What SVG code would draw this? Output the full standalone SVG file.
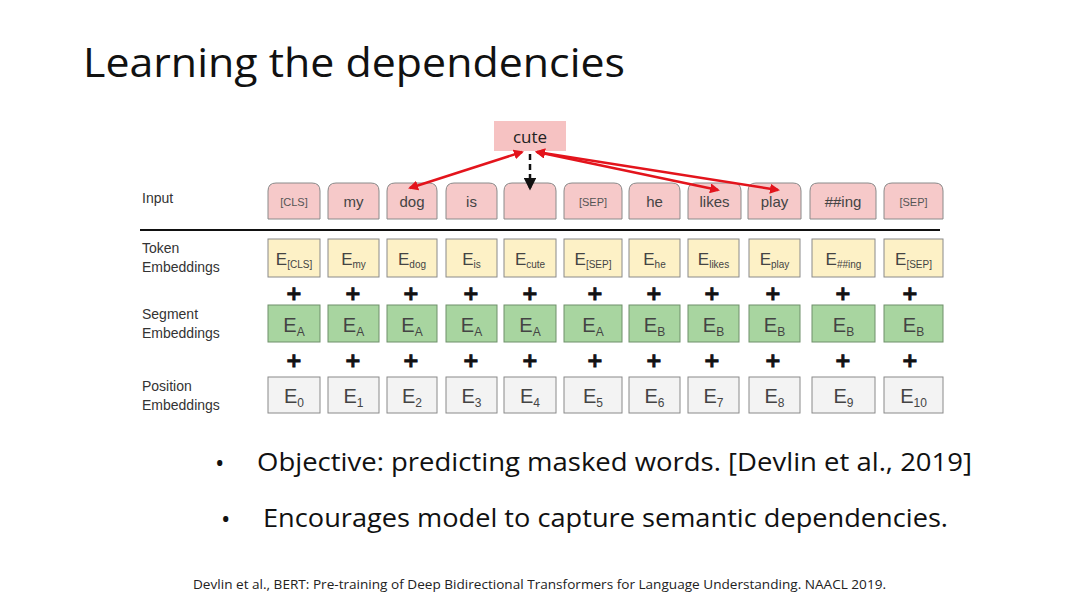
<svg xmlns="http://www.w3.org/2000/svg" width="1080" height="608" viewBox="0 0 1080 608">
<defs>
<style>
.lbl{font-family:"Liberation Sans",Arial,sans-serif;font-size:14px;fill:#333}
.in{fill:#f6c9c9;stroke:#8a8a8a;stroke-width:1}
.tok{fill:#fdf1c6;stroke:#8a8a8a;stroke-width:1}
.seg{fill:#a8d5a0;stroke:#6f8f6a;stroke-width:1}
.pos{fill:#f3f3f3;stroke:#8a8a8a;stroke-width:1}
.it{font-family:"Liberation Sans",Arial,sans-serif;font-size:15px;fill:#444;text-anchor:middle}
.its{font-family:"Liberation Sans",Arial,sans-serif;font-size:11px;fill:#555;text-anchor:middle}
.E{font-family:"Liberation Sans",Arial,sans-serif;font-size:17px;fill:#444;text-anchor:middle}
.E2{font-family:"Liberation Sans",Arial,sans-serif;font-size:20px;fill:#444;text-anchor:middle}
.sub{font-size:10px}
.sub2{font-size:12px}
.plus{font-family:"DejaVu Sans",sans-serif;font-size:20px;font-weight:bold;fill:#111;text-anchor:middle;stroke:#111;stroke-width:0.8}
.red{stroke:#e3141c;stroke-width:2.5;fill:none;marker-start:url(#rh);marker-end:url(#rh)}
.bul{font-family:"Open Sans","Liberation Sans",sans-serif;font-size:25px;fill:#111}
</style>
<marker id="rh" viewBox="0 0 10 10" refX="8" refY="5" markerWidth="4" markerHeight="4" orient="auto-start-reverse" markerUnits="strokeWidth"><path d="M0,0 L10,5 L0,10 z" fill="#e3141c"/></marker>
<marker id="bh" viewBox="0 0 10 10" refX="8" refY="5" markerWidth="5" markerHeight="5" orient="auto" markerUnits="strokeWidth"><path d="M0,0 L10,5 L0,10 z" fill="#111"/></marker>
</defs>
<rect width="1080" height="608" fill="#fff"/>
<text x="83" y="77" font-family="Open Sans,Liberation Sans,sans-serif" font-size="41" fill="#111" textLength="542" lengthAdjust="spacingAndGlyphs">Learning the dependencies</text>

<g id="row-labels">
<text class="lbl" x="142" y="203">Input</text>
<text class="lbl" x="142" y="253">Token</text>
<text class="lbl" x="142" y="272">Embeddings</text>
<text class="lbl" x="142" y="319">Segment</text>
<text class="lbl" x="142" y="338">Embeddings</text>
<text class="lbl" x="142" y="391">Position</text>
<text class="lbl" x="142" y="410">Embeddings</text>
</g>
<line x1="140" y1="230" x2="940" y2="230" stroke="#111" stroke-width="2"/>

<g id="cute"><rect x="494" y="121" width="72" height="30" fill="#f6c2c2"/><text x="530" y="143" font-family="Open Sans,Liberation Sans,sans-serif" font-size="17" fill="#222" text-anchor="middle">cute</text></g>

<g id="input">
<path class="in" d="M268,219V191Q268,183 276,183H312Q320,183 320,191V219Z"/><text class="its" x="294" y="206">[CLS]</text>
<path class="in" d="M328,219V191Q328,183 336,183H371Q379,183 379,191V219Z"/><text class="it" x="353.5" y="207">my</text>
<path class="in" d="M387,219V191Q387,183 395,183H429Q437,183 437,191V219Z"/><text class="it" x="412" y="207">dog</text>
<path class="in" d="M446,219V191Q446,183 454,183H489Q497,183 497,191V219Z"/><text class="it" x="471.5" y="207">is</text>
<path class="in" d="M504,219V191Q504,183 512,183H548Q556,183 556,191V219Z"/>
<path class="in" d="M564,219V191Q564,183 572,183H614Q622,183 622,191V219Z"/><text class="its" x="593" y="206">[SEP]</text>
<path class="in" d="M629,219V191Q629,183 637,183H672Q680,183 680,191V219Z"/><text class="it" x="654.5" y="207">he</text>
<path class="in" d="M688,219V191Q688,183 696,183H733Q741,183 741,191V219Z"/><text class="it" x="714.5" y="207">likes</text>
<path class="in" d="M748,219V191Q748,183 756,183H793Q801,183 801,191V219Z"/><text class="it" x="774.5" y="207">play</text>
<path class="in" d="M810,219V191Q810,183 818,183H868Q876,183 876,191V219Z"/><text class="it" x="843" y="207">##ing</text>
<path class="in" d="M884,219V191Q884,183 892,183H935Q943,183 943,191V219Z"/><text class="its" x="913.5" y="206">[SEP]</text>
</g>

<g id="connectors">
<line class="red" x1="522" y1="152" x2="410" y2="188"/>
<line class="red" x1="537" y1="152" x2="718" y2="190"/>
<line class="red" x1="537" y1="152" x2="778" y2="190"/>
<line x1="530" y1="154" x2="530" y2="188" stroke="#111" stroke-width="2.5" stroke-dasharray="6,4" marker-end="url(#bh)"/>
</g>

<g id="token">
<rect class="tok" x="268" y="239" width="52" height="38"/><text class="E" x="294" y="265">E<tspan class="sub" dy="3">[CLS]</tspan></text>
<rect class="tok" x="328" y="239" width="51" height="38"/><text class="E" x="353.5" y="265">E<tspan class="sub" dy="3">my</tspan></text>
<rect class="tok" x="387" y="239" width="50" height="38"/><text class="E" x="412" y="265">E<tspan class="sub" dy="3">dog</tspan></text>
<rect class="tok" x="446" y="239" width="51" height="38"/><text class="E" x="471.5" y="265">E<tspan class="sub" dy="3">is</tspan></text>
<rect class="tok" x="504" y="239" width="52" height="38"/><text class="E" x="530" y="265">E<tspan class="sub" dy="3">cute</tspan></text>
<rect class="tok" x="564" y="239" width="58" height="38"/><text class="E" x="593" y="265">E<tspan class="sub" dy="3">[SEP]</tspan></text>
<rect class="tok" x="629" y="239" width="51" height="38"/><text class="E" x="654.5" y="265">E<tspan class="sub" dy="3">he</tspan></text>
<rect class="tok" x="688" y="239" width="51" height="38"/><text class="E" x="713.5" y="265">E<tspan class="sub" dy="3">likes</tspan></text>
<rect class="tok" x="749" y="239" width="51" height="38"/><text class="E" x="774.5" y="265">E<tspan class="sub" dy="3">play</tspan></text>
<rect class="tok" x="812" y="239" width="63" height="38"/><text class="E" x="843.5" y="265">E<tspan class="sub" dy="3">##ing</tspan></text>
<rect class="tok" x="884" y="239" width="59" height="38"/><text class="E" x="913.5" y="265">E<tspan class="sub" dy="3">[SEP]</tspan></text>
</g>

<g id="plus1">
<text class="plus" x="294" y="300">+</text><text class="plus" x="353" y="300">+</text><text class="plus" x="411" y="300">+</text><text class="plus" x="471" y="300">+</text><text class="plus" x="530" y="300">+</text><text class="plus" x="595" y="300">+</text><text class="plus" x="654" y="300">+</text><text class="plus" x="712" y="300">+</text><text class="plus" x="773" y="300">+</text><text class="plus" x="843" y="300">+</text><text class="plus" x="910" y="300">+</text>
</g>

<g id="segment">
<rect class="seg" x="268" y="305" width="52" height="37"/><text class="E2" x="294" y="332">E<tspan class="sub2" dy="4">A</tspan></text>
<rect class="seg" x="328" y="305" width="51" height="37"/><text class="E2" x="353.5" y="332">E<tspan class="sub2" dy="4">A</tspan></text>
<rect class="seg" x="387" y="305" width="50" height="37"/><text class="E2" x="412" y="332">E<tspan class="sub2" dy="4">A</tspan></text>
<rect class="seg" x="446" y="305" width="51" height="37"/><text class="E2" x="471.5" y="332">E<tspan class="sub2" dy="4">A</tspan></text>
<rect class="seg" x="504" y="305" width="52" height="37"/><text class="E2" x="530" y="332">E<tspan class="sub2" dy="4">A</tspan></text>
<rect class="seg" x="564" y="305" width="58" height="37"/><text class="E2" x="593" y="332">E<tspan class="sub2" dy="4">A</tspan></text>
<rect class="seg" x="629" y="305" width="51" height="37"/><text class="E2" x="654.5" y="332">E<tspan class="sub2" dy="4">B</tspan></text>
<rect class="seg" x="688" y="305" width="51" height="37"/><text class="E2" x="713.5" y="332">E<tspan class="sub2" dy="4">B</tspan></text>
<rect class="seg" x="749" y="305" width="51" height="37"/><text class="E2" x="774.5" y="332">E<tspan class="sub2" dy="4">B</tspan></text>
<rect class="seg" x="812" y="305" width="63" height="37"/><text class="E2" x="843.5" y="332">E<tspan class="sub2" dy="4">B</tspan></text>
<rect class="seg" x="884" y="305" width="59" height="37"/><text class="E2" x="913.5" y="332">E<tspan class="sub2" dy="4">B</tspan></text>
</g>

<g id="plus2">
<text class="plus" x="294" y="367">+</text><text class="plus" x="353" y="367">+</text><text class="plus" x="411" y="367">+</text><text class="plus" x="471" y="367">+</text><text class="plus" x="530" y="367">+</text><text class="plus" x="595" y="367">+</text><text class="plus" x="654" y="367">+</text><text class="plus" x="712" y="367">+</text><text class="plus" x="773" y="367">+</text><text class="plus" x="843" y="367">+</text><text class="plus" x="910" y="367">+</text>
</g>

<g id="position">
<rect class="pos" x="268" y="377" width="52" height="36"/><text class="E2" x="294" y="403">E<tspan class="sub2" dy="4">0</tspan></text>
<rect class="pos" x="328" y="377" width="51" height="36"/><text class="E2" x="353.5" y="403">E<tspan class="sub2" dy="4">1</tspan></text>
<rect class="pos" x="387" y="377" width="50" height="36"/><text class="E2" x="412" y="403">E<tspan class="sub2" dy="4">2</tspan></text>
<rect class="pos" x="446" y="377" width="51" height="36"/><text class="E2" x="471.5" y="403">E<tspan class="sub2" dy="4">3</tspan></text>
<rect class="pos" x="504" y="377" width="52" height="36"/><text class="E2" x="530" y="403">E<tspan class="sub2" dy="4">4</tspan></text>
<rect class="pos" x="564" y="377" width="58" height="36"/><text class="E2" x="593" y="403">E<tspan class="sub2" dy="4">5</tspan></text>
<rect class="pos" x="629" y="377" width="51" height="36"/><text class="E2" x="654.5" y="403">E<tspan class="sub2" dy="4">6</tspan></text>
<rect class="pos" x="688" y="377" width="51" height="36"/><text class="E2" x="713.5" y="403">E<tspan class="sub2" dy="4">7</tspan></text>
<rect class="pos" x="749" y="377" width="51" height="36"/><text class="E2" x="774.5" y="403">E<tspan class="sub2" dy="4">8</tspan></text>
<rect class="pos" x="812" y="377" width="63" height="36"/><text class="E2" x="843.5" y="403">E<tspan class="sub2" dy="4">9</tspan></text>
<rect class="pos" x="884" y="377" width="59" height="36"/><text class="E2" x="913.5" y="403">E<tspan class="sub2" dy="4">10</tspan></text>
</g>

<g id="bullets">
<text class="bul" x="215" y="472" font-size="30">•</text>
<text class="bul" x="257" y="471" textLength="715" lengthAdjust="spacingAndGlyphs">Objective: predicting masked words. [Devlin et al., 2019]</text>
<text class="bul" x="221" y="528" font-size="30">•</text>
<text class="bul" x="263" y="527" textLength="685" lengthAdjust="spacingAndGlyphs">Encourages model to capture semantic dependencies.</text>
</g>
<text x="193" y="589" font-family="Open Sans,Liberation Sans,sans-serif" font-size="13" fill="#222" textLength="693" lengthAdjust="spacingAndGlyphs">Devlin et al., BERT: Pre-training of Deep Bidirectional Transformers for Language Understanding. NAACL 2019.</text>
</svg>
